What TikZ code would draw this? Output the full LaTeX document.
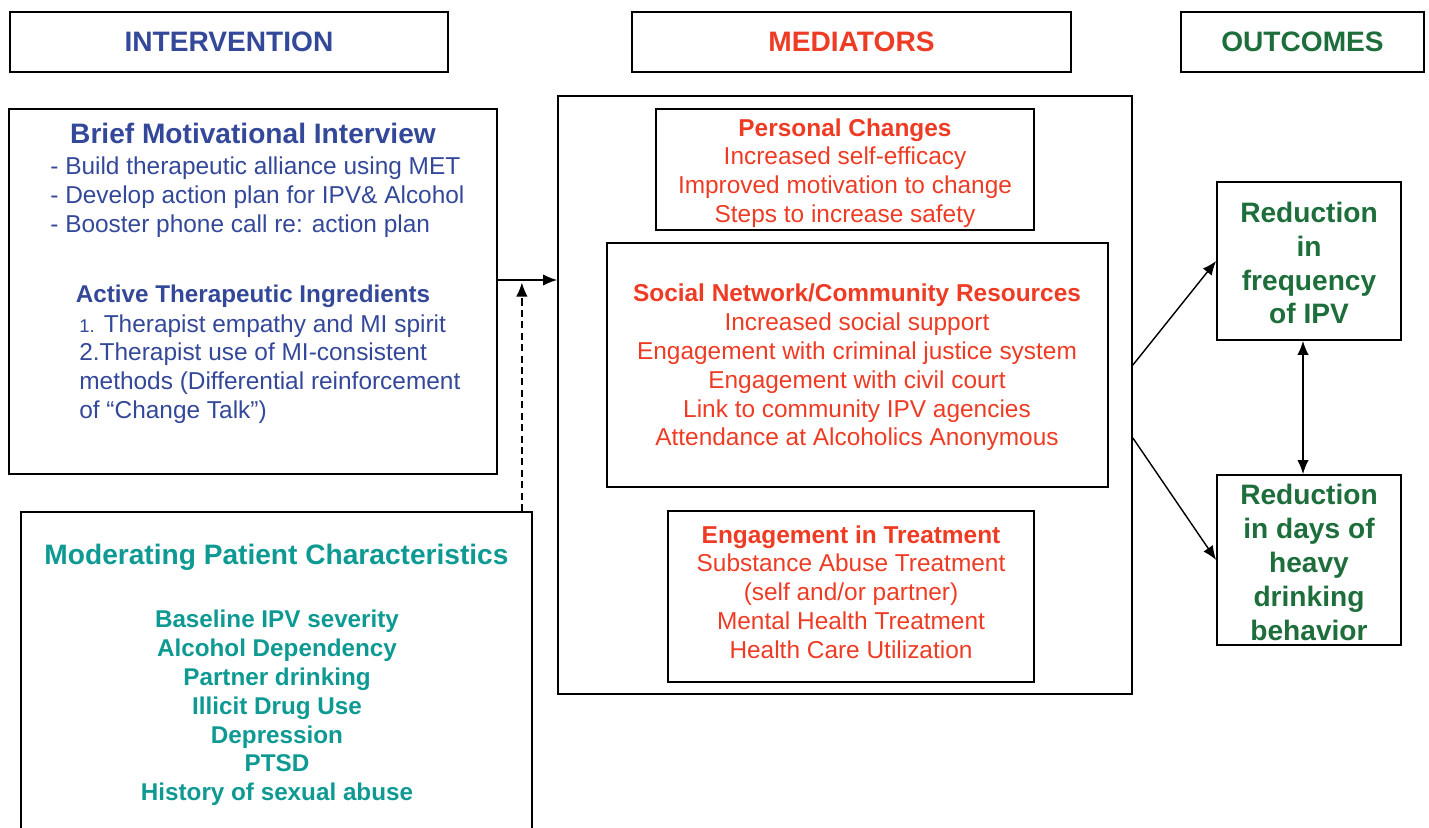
\documentclass[tikz,border=0pt]{standalone}
\usepackage{fontspec}
\setmainfont{Liberation Sans}
\usepackage{tikz}
\usetikzlibrary{positioning, arrows.meta}
\definecolor{ivblue}{HTML}{34489A}
\definecolor{medred}{HTML}{EE3B24}
\definecolor{outgreen}{HTML}{1D6E3B}
\definecolor{modteal}{HTML}{0E9A93}
\tikzset{
  box/.style={draw, line width=1pt, inner sep=0pt},
  head/.style={box, minimum height=1.2cm, font=\fontsize{16}{19}\selectfont\bfseries},
  txt/.style={inner sep=0pt, align=center, font=\fontsize{13.9}{16.4}\selectfont},
  big/.style={inner sep=0pt, align=center, font=\fontsize{16}{19.3}\selectfont\bfseries},
  arr/.style={-{Latex[length=8pt, width=6.5pt]}, line width=0.8pt},
}

\begin{document}
\begin{tikzpicture}
\useasboundingbox (0, 0) rectangle (28.58, -16.54);
\clip (0, 0) rectangle (28.58, -16.54);
\node [head, minimum width=8.76cm, text=ivblue] (hint) at (4.58, -0.84) {INTERVENTION};
\node [head, minimum width=8.78cm, text=medred] (hmed) at (17.03, -0.84) {MEDIATORS};
\node [head, minimum width=4.86cm, text=outgreen] (hout) at (26.05, -0.84) {OUTCOMES};
\node [box, minimum width=9.76cm, minimum height=7.30cm] (mi) at (5.06, -5.83) {};
\node [box, minimum width=11.48cm, minimum height=11.96cm] (med) at (16.90, -7.90) {};
\node [box, minimum width=7.56cm, minimum height=2.42cm] (pers) at (16.90, -3.39) {};
\node [box, minimum width=10.02cm, minimum height=4.88cm] (soc) at (17.15, -7.30) {};
\node [box, minimum width=7.32cm, minimum height=3.42cm] (treat) at (17.02, -11.93) {};
\node [box, minimum width=3.68cm, minimum height=3.16cm] (ipv) at (26.18, -5.22) {};
\node [box, minimum width=3.68cm, minimum height=3.40cm] (drink) at (26.18, -11.20) {};
\node [box, minimum width=10.22cm, minimum height=8cm] (mod) at (5.53, -14.24) {};

\node [big, text=ivblue] (mititle) at (5.06, -2.66) {Brief Motivational Interview};
\node [txt, align=left, anchor=west, text=ivblue] (milist) at (1.00, -3.94)
  {- Build therapeutic alliance using MET\\- Develop action plan for IPV\& Alcohol\\- Booster phone call re: action plan};
\node [txt, font=\fontsize{13.8}{16.4}\selectfont\bfseries, text=ivblue] (aititle) at (5.06, -5.92) {Active Therapeutic Ingredients};
\node [txt, align=left, anchor=west, text=ivblue] (ailist) at (1.58, -7.38)
  {{\fontsize{10.5}{12}\selectfont 1.} Therapist empathy and MI spirit\\2.Therapist use of MI-consistent\\methods (Differential reinforcement\\of “Change Talk”)};

\node [txt, text=medred] (perstext) at (16.90, -3.46)
  {\textbf{Personal Changes}\\Increased self-efficacy\\Improved motivation to change\\Steps to increase safety};
\node [txt, text=medred] (soctext) at (17.14, -7.35)
  {\textbf{Social Network/Community Resources}\\Increased social support\\Engagement with criminal justice system\\Engagement with civil court\\Link to community IPV agencies\\Attendance at Alcoholics Anonymous};
\node [txt, text=medred] (treattext) at (17.02, -11.84)
  {\textbf{Engagement in Treatment}\\Substance Abuse Treatment\\(self and/or partner)\\Mental Health Treatment\\Health Care Utilization};

\node [big, text=outgreen] (ipvtext) at (26.18, -5.26) {Reduction\\in\\frequency\\of IPV};
\node [big, text=outgreen] (drinktext) at (26.18, -11.25) {Reduction\\in days of\\heavy\\drinking\\behavior};

\node [big, text=modteal] (modtitle) at (5.53, -11.14) {Moderating Patient Characteristics};
\node [txt, font=\fontsize{13.8}{16.4}\selectfont\bfseries, text=modteal] (modlist) at (5.54, -14.16)
  {Baseline IPV severity\\Alcohol Dependency\\Partner drinking\\Illicit Drug Use\\Depression\\PTSD\\History of sexual abuse};

\coordinate (j) at ([yshift=0.23cm]mi.east);
\coordinate (m) at ([xshift=-0.22cm]mod.north east);
\draw [arr] (j) -- (j -| med.west);
\draw [arr, dash pattern=on 4pt off 2.5pt] (m) -- ([yshift=-0.05cm]m |- j);
\draw [arr] ([yshift=0.6cm]med.east) -- (ipv.west);
\draw [arr] ([yshift=-0.86cm]med.east) -- (drink.west);
\draw [arr, {Latex[length=8pt, width=6.5pt]}-{Latex[length=8pt, width=6.5pt]}] ([xshift=-0.12cm]ipv.south) -- ([xshift=-0.12cm]drink.north);
\end{tikzpicture}
\end{document}
